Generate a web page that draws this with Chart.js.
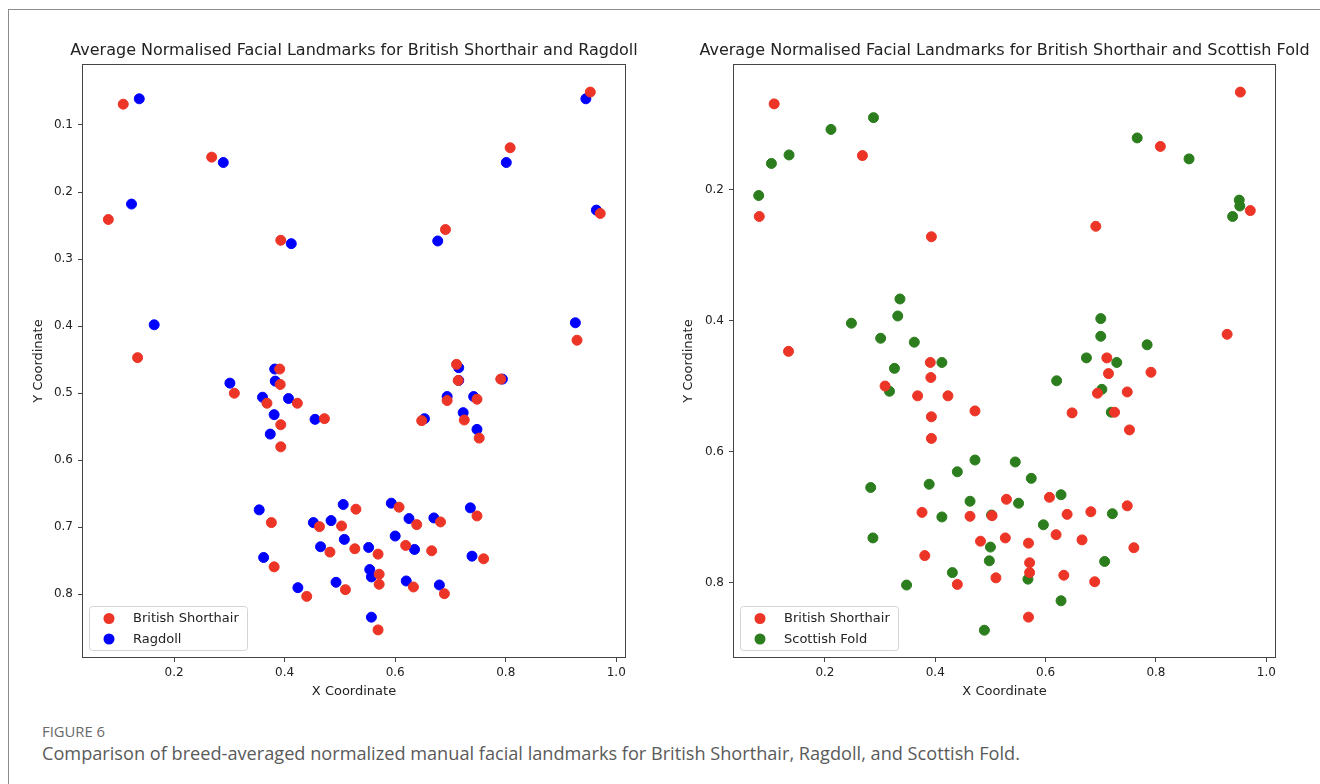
<!DOCTYPE html>
<html><head><meta charset="utf-8">
<script src="https://cdn.jsdelivr.net/npm/chart.js@4.4.1/dist/chart.umd.min.js"></script>
<style>
html,body{margin:0;padding:0;background:#fff;}
body{width:1320px;height:784px;position:relative;overflow:hidden;font-family:"DejaVu Sans";}
#card{position:absolute;left:8px;top:9px;width:1340px;height:820px;border:1px solid #8c8c8c;box-sizing:border-box;}
canvas{position:absolute;}
#cL{left:20px;top:30px;}
#cR{left:670px;top:30px;}
#fig{position:absolute;left:42px;top:721px;font-family:"Open Sans";font-size:14.5px;line-height:20px;color:#6a6a6a;white-space:nowrap;}
#cap{position:absolute;left:42px;top:741px;font-family:"Open Sans";font-size:18px;line-height:24px;color:#5a5a5a;white-space:nowrap;}
</style></head>
<body>
<div id="card"></div>
<canvas id="cL" width="630" height="680"></canvas>
<canvas id="cR" width="650" height="680"></canvas>
<div id="fig">FIGURE 6</div>
<div id="cap">Comparison of breed-averaged normalized manual facial landmarks for British Shorthair, Ragdoll, and Scottish Fold.</div>
<script>
// British Shorthair (shared by both panels)
const bsX = [0.108,0.268,0.081,0.393,0.134,0.953,0.808,0.971,0.691,0.929,0.391,0.309,0.392,0.368,0.423,0.393,0.393,0.472,0.376,0.463,0.529,0.503,0.527,0.482,0.381,0.440,0.510,0.711,0.791,0.694,0.748,0.725,0.648,0.752,0.607,0.639,0.682,0.748,0.619,0.666,0.569,0.760,0.571,0.571,0.633,0.689,0.569,0.714];
const bsY = [0.069,0.148,0.241,0.272,0.447,0.051,0.134,0.232,0.256,0.421,0.464,0.500,0.487,0.515,0.515,0.547,0.580,0.538,0.693,0.699,0.673,0.698,0.732,0.737,0.759,0.803,0.793,0.457,0.479,0.511,0.509,0.540,0.541,0.567,0.670,0.696,0.692,0.683,0.727,0.735,0.740,0.747,0.770,0.785,0.789,0.799,0.853,0.481];
// Ragdoll
const ragX = [0.137,0.289,0.123,0.412,0.164,0.945,0.801,0.964,0.677,0.926,0.382,0.301,0.383,0.360,0.407,0.381,0.374,0.455,0.354,0.452,0.506,0.484,0.508,0.465,0.362,0.424,0.493,0.715,0.715,0.794,0.694,0.742,0.723,0.653,0.748,0.593,0.625,0.670,0.736,0.600,0.635,0.552,0.739,0.554,0.557,0.620,0.680,0.557];
const ragY = [0.061,0.156,0.218,0.277,0.398,0.061,0.156,0.227,0.273,0.395,0.464,0.485,0.482,0.506,0.508,0.532,0.561,0.539,0.674,0.693,0.666,0.690,0.718,0.729,0.745,0.790,0.782,0.462,0.481,0.479,0.505,0.505,0.529,0.538,0.554,0.664,0.687,0.686,0.671,0.713,0.733,0.730,0.743,0.763,0.774,0.780,0.786,0.834];
// Scottish Fold
const sfX = [0.288,0.211,0.135,0.103,0.080,0.336,0.332,0.248,0.301,0.362,0.412,0.766,0.860,0.951,0.952,0.939,0.700,0.700,0.784,0.674,0.729,0.326,0.317,0.472,0.545,0.440,0.283,0.389,0.463,0.551,0.412,0.502,0.287,0.500,0.498,0.431,0.348,0.489,0.620,0.702,0.719,0.574,0.628,0.721,0.596,0.707,0.568,0.628];
const sfY = [0.090,0.108,0.147,0.160,0.209,0.367,0.393,0.404,0.427,0.433,0.464,0.121,0.153,0.216,0.225,0.241,0.397,0.424,0.437,0.457,0.464,0.473,0.508,0.613,0.616,0.631,0.655,0.650,0.676,0.679,0.700,0.697,0.732,0.746,0.767,0.785,0.804,0.873,0.492,0.505,0.540,0.641,0.666,0.695,0.712,0.768,0.795,0.828];

const xTickVals = [0.2,0.4,0.6,0.8,1.0];
const leftYTickVals = [0.1,0.2,0.3,0.4,0.5,0.6,0.7,0.8];
const rightYTickVals = [0.2,0.4,0.6,0.8];
const xRange = [0.0352,1.0158];
const leftYRange = [0.0106,0.8934];
const rightYRange = [0.0096,0.9139];

const RED = '#ec3526', BLUE = '#0000ff', GREEN = '#2b7d1d';
const TXT = '#222';

function pts(xs, ys){ return xs.map((x,i)=>({x:x, y:ys[i]})); }

// fit caption lines to the reference widths
function fitWidth(id, target){
  const el = document.getElementById(id);
  const fs = parseFloat(getComputedStyle(el).fontSize);
  const w = el.getBoundingClientRect().width;
  if (w > 0) el.style.fontSize = (fs * target / w).toFixed(2) + 'px';
}
fitWidth('fig', 63);
fitWidth('cap', 978);

const boxPlugin = {
  id:'boxFrame',
  afterDatasetsDraw(chart){
    const {ctx, chartArea:a} = chart;
    ctx.save();
    ctx.strokeStyle = '#444'; ctx.lineWidth = 1;
    ctx.strokeRect(Math.round(a.left)-0.5, Math.round(a.top)-0.5, Math.round(a.right-a.left)+1, Math.round(a.bottom-a.top)+1);
    ctx.restore();
  }
};

const axTitlePlugin = {
  id:'axTitle',
  afterDraw(chart, args, opts){
    const {ctx, chartArea:a} = chart;
    ctx.save();
    ctx.font = '16px "DejaVu Sans"';
    ctx.fillStyle = TXT; ctx.textAlign = 'center'; ctx.textBaseline = 'middle';
    ctx.fillText(opts.text, (a.left + a.right)/2, a.top - 14);
    ctx.restore();
  }
};

const legendPlugin = {
  id:'scLegend',
  afterDraw(chart){
    const {ctx, chartArea:a} = chart;
    const ds = chart.data.datasets;
    ctx.save();
    ctx.font = '13px "DejaVu Sans"';
    const tw = Math.max(...ds.map(d=>ctx.measureText(d.label).width));
    const w = Math.round(44 + tw + 8), h = 44;
    const x = Math.round(a.left + 6), y = Math.round(a.bottom - 7 - h);
    ctx.beginPath();
    ctx.roundRect(x+0.5, y+0.5, w, h, 3);
    ctx.fillStyle = 'rgba(255,255,255,0.85)'; ctx.fill();
    ctx.strokeStyle = '#d4d4d4'; ctx.lineWidth = 1; ctx.stroke();
    ds.forEach((d,i)=>{
      const cy = y + 12.5 + i*20.5;
      ctx.beginPath(); ctx.arc(x+20, cy, 5.5, 0, Math.PI*2);
      ctx.fillStyle = d.backgroundColor; ctx.fill();
      ctx.fillStyle = TXT; ctx.textBaseline = 'middle'; ctx.textAlign = 'left';
      ctx.fillText(d.label, x+44, cy+0.5);
    });
    ctx.restore();
  }
};

function makeChart(id, title, datasets, yTicks, yRange, yW, padRight){
  const font = (s)=>({family:'DejaVu Sans', size:s});
  return new Chart(document.getElementById(id), {
    type:'scatter',
    data:{datasets: datasets.map(d=>({
      label:d.label, data:d.data, backgroundColor:d.color, borderColor:d.color,
      pointRadius:5, pointBorderWidth:1, pointHoverRadius:5, showLine:false
    }))},
    options:{
      responsive:false, animation:false, events:[],
      layout:{padding:{left:0,right:padRight,top:35,bottom:0}},
      plugins:{
        legend:{display:false}, tooltip:{enabled:false}, title:{display:false},
        axTitle:{text:title}
      },
      scales:{
        x:{type:'linear', position:'bottom', min:xRange[0], max:xRange[1],
          afterBuildTicks:(s)=>{ s.ticks = xTickVals.map(v=>({value:v})); },
          afterFit:(s)=>{ s.height = 53; },
          grid:{display:true, drawOnChartArea:false, drawTicks:true, tickLength:5, tickColor:'#444', tickWidth:1},
          border:{display:false},
          ticks:{padding:4, color:TXT, font:font(12), maxRotation:0, callback:(v)=>Number(v).toFixed(1)},
          title:{display:true, text:'X Coordinate', color:TXT, font:font(13), padding:{top:0,bottom:11}}
        },
        y:{type:'linear', position:'left', reverse:true, min:yRange[0], max:yRange[1],
          afterBuildTicks:(s)=>{ s.ticks = yTicks.map(v=>({value:v})); },
          afterFit:(s)=>{ s.width = yW; },
          grid:{display:true, drawOnChartArea:false, drawTicks:true, tickLength:5, tickColor:'#444', tickWidth:1},
          border:{display:false},
          ticks:{padding:5, color:TXT, font:font(12), callback:(v)=>Number(v).toFixed(1)},
          title:{display:true, text:'Y Coordinate', color:TXT, font:font(13), padding:{top:10.5,bottom:0}}
        }
      }
    },
    plugins:[boxPlugin, axTitlePlugin, legendPlugin]
  });
}

makeChart('cL', 'Average Normalised Facial Landmarks for British Shorthair and Ragdoll', [
  {label:'British Shorthair', data:pts(bsX,bsY), color:RED},
  {label:'Ragdoll', data:pts(ragX,ragY), color:BLUE}
], leftYTickVals, leftYRange, 63, 25);

makeChart('cR', 'Average Normalised Facial Landmarks for British Shorthair and Scottish Fold', [
  {label:'British Shorthair', data:pts(bsX,bsY), color:RED},
  {label:'Scottish Fold', data:pts(sfX,sfY), color:GREEN}
], rightYTickVals, rightYRange, 64, 45);
</script>
</body></html>
